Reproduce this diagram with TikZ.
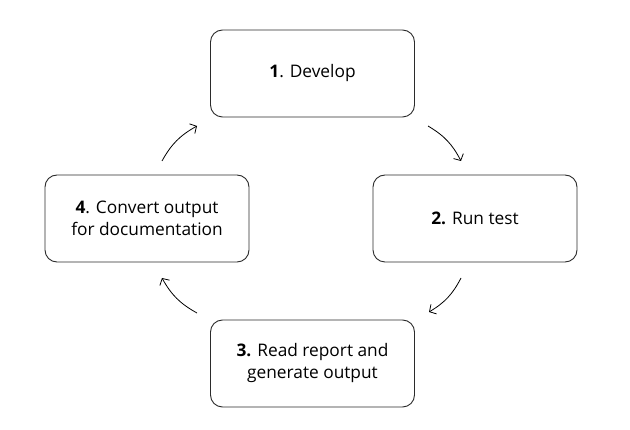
\documentclass[tikz,border=0pt]{standalone}
\usepackage{fontspec}
\usepackage{xcolor}
\usetikzlibrary{arrows.meta}
\setmainfont{Open Sans}
\definecolor{boxline}{HTML}{2b2b2b}
\tikzset{
  stage/.style={draw=boxline, line width=0.9pt, rounded corners=12pt,
    minimum width=204pt, minimum height=87pt, align=center,
    font=\fontsize{17.3}{22}\selectfont},
  cyclearrow/.style={line width=0.8pt, -{Straight Barb[length=5pt,width=11pt]}}
}

\begin{document}
\begin{tikzpicture}[x=1pt, y=-1pt]
    \useasboundingbox (0,0) rectangle (630,430);
    % the four stages
    \node[stage] (develop) at (312.5, 73.5) {\textbf{1}. Develop};
    \node[stage] (runtest) at (475, 218.5) {\textbf{2.} Run test};
    \node[stage] (report) at (312.5, 363.5) {\textbf{3.} Read report and\\generate output};
    \node[stage] (convert) at (147, 218.5) {\textbf{4}. Convert output\\for documentation};
    % arrow ends
    \coordinate (a1) at (428, 126);
    \coordinate (b1) at (461, 161);
    \coordinate (a2) at (461, 278);
    \coordinate (b2) at (429, 312);
    \coordinate (a3) at (197, 313);
    \coordinate (b3) at (162, 278);
    \coordinate (a4) at (162, 161);
    \coordinate (b4) at (197, 126);
    \draw[cyclearrow] (a1) to[bend left=16] (b1);
    \draw[cyclearrow] (a2) to[bend left=16] (b2);
    \draw[cyclearrow] (a3) to[bend left=16] (b3);
    \draw[cyclearrow] (a4) to[bend left=16] (b4);
\end{tikzpicture}
\end{document}
